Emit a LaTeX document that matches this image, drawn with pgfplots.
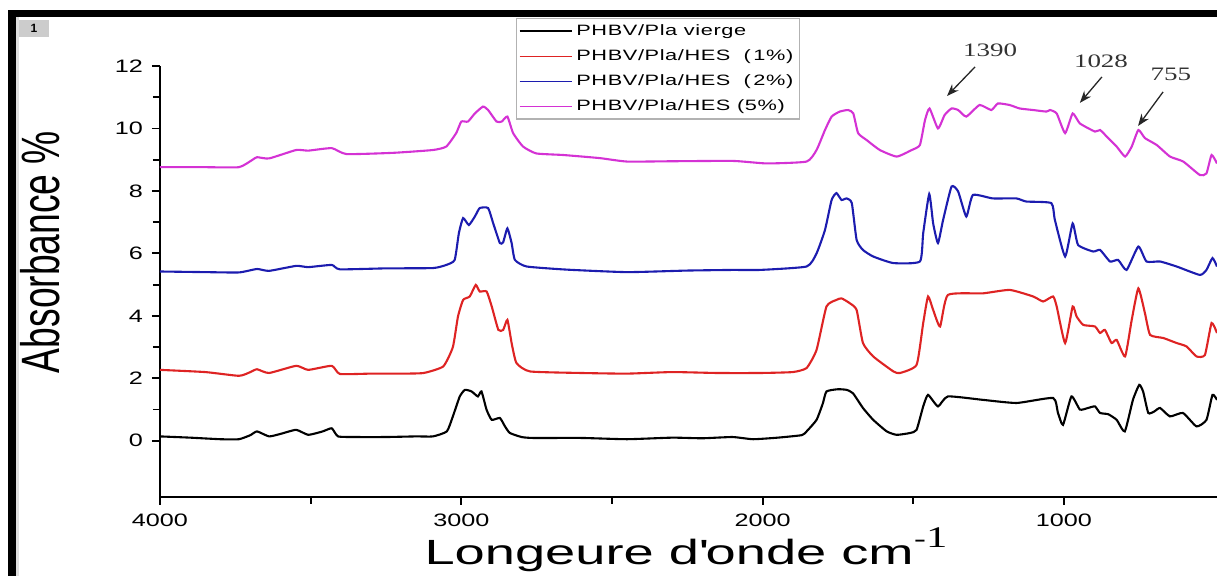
\documentclass[border=0pt]{standalone}
\usepackage{fontspec}
\setmainfont{Liberation Sans}
\usepackage{pgfplots}
\usepackage{pgfplotstable}
\pgfplotsset{compat=1.18}
\usetikzlibrary{arrows.meta}

\newfontfamily\tickfont[FakeStretch=1.4]{Liberation Sans}
\newfontfamily\legfont[FakeStretch=1.45,LetterSpace=4]{Liberation Sans}
\newfontfamily\xlabfont[FakeStretch=1.55]{Liberation Sans}
\newfontfamily\ylabfont[FakeStretch=0.69]{Liberation Sans}
\newfontfamily\annfont[FakeStretch=1.42]{Liberation Serif}

\definecolor{cred}{RGB}{222,35,35}
\definecolor{cblue}{RGB}{28,28,175}
\definecolor{cmag}{RGB}{212,50,212}

% PHBV/Pla vierge
\pgfplotstableread{
w y
4000 0.14
3900 0.10
3800 0.05
3738 0.05
3700 0.18
3678 0.30
3638 0.14
3600 0.22
3548 0.35
3508 0.19
3460 0.30
3430 0.40
3409 0.14
3350 0.12
3250 0.12
3150 0.14
3094 0.14
3048 0.30
3028 0.78
3005 1.42
2988 1.63
2966 1.58
2945 1.42
2933 1.58
2916 0.99
2899 0.67
2872 0.73
2855 0.46
2839 0.25
2800 0.12
2762 0.09
2600 0.09
2450 0.05
2300 0.10
2200 0.08
2100 0.12
2032 0.05
1950 0.10
1870 0.18
1854 0.30
1821 0.67
1800 1.20
1788 1.58
1750 1.65
1721 1.63
1700 1.52
1667 1.05
1633 0.67
1588 0.30
1555 0.19
1510 0.25
1489 0.35
1467 1.10
1451 1.47
1418 1.10
1385 1.42
1269 1.31
1157 1.21
1036 1.37
1020 0.90
1003 0.51
975 1.42
947 1.00
920 1.05
897 1.10
880 0.89
853 0.85
825 0.67
798 0.30
771 1.31
750 1.79
737 1.57
720 0.89
700 0.94
681 1.05
648 0.78
605 0.89
560 0.46
527 0.67
507 1.47
492 1.31
}\vierge

% PHBV/Pla/HES 1%
\pgfplotstableread{
w y
4000 2.27
3850 2.20
3738 2.08
3700 2.20
3678 2.29
3638 2.17
3548 2.40
3508 2.27
3430 2.40
3403 2.14
3300 2.15
3200 2.15
3125 2.17
3060 2.38
3028 3.00
3011 3.98
2994 4.51
2972 4.62
2952 4.99
2939 4.78
2916 4.78
2899 4.30
2877 3.55
2861 3.55
2847 3.87
2833 3.13
2817 2.49
2772 2.22
2600 2.17
2450 2.15
2300 2.20
2150 2.17
2009 2.17
1900 2.20
1854 2.33
1821 2.91
1788 4.30
1755 4.51
1738 4.56
1710 4.40
1688 4.19
1667 3.13
1633 2.70
1566 2.22
1544 2.17
1489 2.43
1467 3.77
1451 4.62
1434 4.19
1411 3.66
1385 4.67
1269 4.72
1180 4.83
1102 4.62
1069 4.46
1036 4.62
1024 4.30
996 3.13
971 4.30
958 3.98
936 3.71
897 3.66
880 3.45
864 3.55
842 3.13
825 3.23
797 2.70
775 3.87
753 4.88
731 4.08
714 3.39
670 3.29
626 3.13
593 3.02
560 2.70
532 2.75
510 3.77
492 3.45
}\hesone

% PHBV/Pla/HES 2%
\pgfplotstableread{
w y
4000 5.42
3850 5.40
3738 5.39
3678 5.50
3638 5.44
3548 5.60
3508 5.56
3430 5.63
3403 5.49
3250 5.52
3094 5.53
3050 5.63
3022 5.79
3008 6.65
2994 7.13
2975 6.91
2955 7.18
2939 7.45
2911 7.45
2894 6.96
2872 6.33
2861 6.36
2847 6.80
2833 6.33
2822 5.79
2783 5.58
2650 5.48
2450 5.40
2250 5.45
2100 5.47
2009 5.47
1854 5.58
1821 6.00
1793 6.75
1771 7.71
1755 7.93
1738 7.71
1721 7.76
1704 7.61
1688 6.43
1667 6.11
1633 5.90
1566 5.69
1478 5.74
1467 6.65
1447 7.90
1434 6.96
1418 6.33
1401 7.07
1373 8.14
1351 7.98
1324 7.18
1302 7.87
1236 7.76
1158 7.76
1125 7.66
1042 7.61
1030 7.07
996 5.90
971 6.96
953 6.27
903 6.06
880 6.11
847 5.74
820 5.79
792 5.47
753 6.22
726 5.74
681 5.74
626 5.58
549 5.31
527 5.47
507 5.85
492 5.58
}\hestwo

% PHBV/Pla/HES 5%
\pgfplotstableread{
w y
4000 8.76
3850 8.76
3738 8.76
3694 8.99
3678 9.08
3638 9.04
3548 9.31
3508 9.29
3430 9.37
3381 9.18
3225 9.22
3094 9.31
3050 9.42
3017 9.85
3000 10.22
2978 10.22
2955 10.48
2928 10.70
2911 10.59
2883 10.22
2866 10.22
2847 10.38
2828 9.85
2795 9.42
2751 9.20
2662 9.15
2540 9.05
2450 8.94
2300 8.95
2098 8.96
1986 8.88
1854 8.94
1821 9.31
1793 9.95
1771 10.38
1744 10.54
1716 10.59
1699 10.48
1683 9.85
1655 9.63
1611 9.31
1555 9.10
1505 9.31
1478 9.47
1461 10.27
1446 10.64
1418 10.00
1396 10.43
1373 10.64
1351 10.59
1324 10.38
1280 10.75
1241 10.59
1219 10.80
1180 10.75
1147 10.64
1102 10.59
1058 10.54
1046 10.59
1024 10.48
996 9.85
971 10.48
947 10.16
897 9.90
880 9.95
853 9.69
825 9.42
797 9.10
775 9.42
753 9.95
731 9.69
692 9.47
648 9.10
604 8.94
549 8.51
527 8.56
510 9.15
492 8.88
}\hesfive

\begin{document}
\begin{tikzpicture}
\useasboundingbox (0,0) rectangle (608.5pt,288pt);
% frame of the scanned figure (pixel coordinates)
\begin{scope}[x=0.5pt,y=-0.5pt,shift={(0pt,288pt)}]
  \fill[black] (8,10) rectangle (1217,17);
  \fill[black] (8,10) rectangle (16,576);
  \fill[gray!25] (16,17) rectangle (19,576);
  \fill[gray!40] (19,20) rectangle (49,37);
  \node[font=\fontsize{6pt}{7pt}\selectfont\bfseries] at (34,28) {1};
\end{scope}

\begin{axis}[
  at={(80pt,39.5pt)}, anchor=south west,
  scale only axis, width=528.5pt, height=215.5pt,
  x dir=reverse,
  xmin=492, xmax=4000, ymin=-1.8, ymax=12,
  axis x line*=bottom, axis y line*=left,
  axis line style={-, line width=1pt},
  xtick={1000,2000,3000,4000}, ytick={0,2,...,12},
  minor x tick num=1, minor y tick num=1,
  tick align=outside,
  major tick length=4pt, minor tick length=3.5pt,
  every tick/.style={black, line width=0.9pt},
  /pgf/number format/assume math mode=true,
  /pgf/number format/1000 sep={},
  ticklabel style={font=\tickfont\fontsize{9pt}{10pt}\selectfont},
  yticklabel style={anchor=east, xshift=-1pt},
  xticklabel style={yshift=-1pt},
  clip mode=individual,
  every axis plot/.append style={line width=1.05pt, smooth, tension=0.3},
  legend style={at={(0.337,1.111)}, anchor=north west,
    draw=gray!60, line width=0.6pt, fill=white,
    font=\legfont\fontsize{7.5pt}{8.5pt}\selectfont,
    inner xsep=1pt, inner ysep=0.8pt, row sep=1.6pt},
  legend cell align=left,
  legend image code/.code={\draw[#1, line width=0.8pt] (0pt,0pt) -- (26pt,0pt);},
]
\addplot[black] table[x=w,y=y] {\vierge};
\addplot[cred] table[x=w,y=y] {\hesone};
\addplot[cblue] table[x=w,y=y] {\hestwo};
\addplot[cmag] table[x=w,y=y] {\hesfive};
\legend{PHBV/Pla vierge, PHBV/Pla/HES\ \ (\,1\%), PHBV/Pla/HES\ \ (\,2\%), PHBV/Pla/HES (5\%)}

\draw[-{Stealth[length=6pt,width=4.5pt]}, black!85, line width=0.65pt]
  (axis cs:1295,11.97) -- (axis cs:1388,11.04);
\draw[-{Stealth[length=6pt,width=4.5pt]}, black!85, line width=0.65pt]
  (axis cs:874,11.65) -- (axis cs:947,10.82);
\draw[-{Stealth[length=6pt,width=4.5pt]}, black!85, line width=0.65pt]
  (axis cs:671,11.17) -- (axis cs:754,10.08);
\node[font=\annfont\fontsize{9.5pt}{10pt}\selectfont, text=black!80] at (axis cs:1245,12.51) {1390};
\node[font=\annfont\fontsize{9.5pt}{10pt}\selectfont, text=black!80] at (axis cs:877,12.16) {1028};
\node[font=\annfont\fontsize{9.5pt}{10pt}\selectfont, text=black!80] at (axis cs:645,11.74) {755};
\end{axis}

% axis titles (pixel coordinates)
\begin{scope}[x=0.5pt,y=-0.5pt,shift={(0pt,288pt)}]
  \node[rotate=90, font=\ylabfont\fontsize{27pt}{30pt}\selectfont] at (40,252) {Absorbance \%};
  \node[anchor=base, font=\xlabfont\fontsize{17.5pt}{20pt}\selectfont, inner sep=0pt] at (686,565)
    {Longeure d\textquotesingle onde cm\raisebox{0.5em}{\fontsize{12pt}{12pt}\selectfont -\annfont\fontsize{15pt}{15pt}\selectfont 1}};
\end{scope}
\end{tikzpicture}
\end{document}
